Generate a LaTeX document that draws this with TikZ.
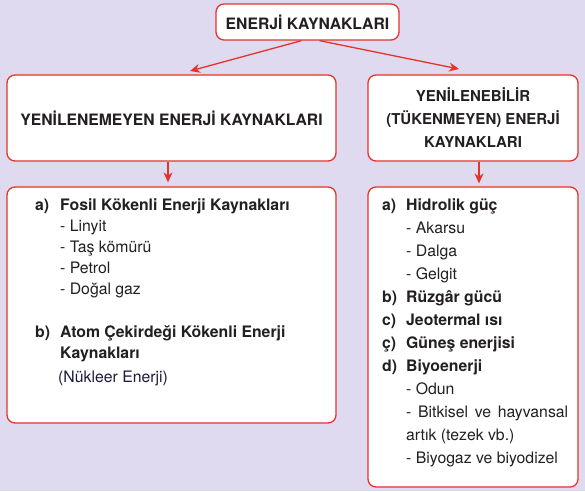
\documentclass[tikz,border=0pt]{standalone}
\usepackage{fontspec}
\setmainfont{TeX Gyre Heros}
\usepackage{xcolor}
\usetikzlibrary{arrows.meta, positioning}

\definecolor{zemin}{RGB}{223,218,240}
\definecolor{kirmizi}{RGB}{228,52,42}
\definecolor{yazi}{RGB}{35,31,32}
\definecolor{lacivert}{RGB}{28,26,60}

\tikzset{
  kutu/.style={draw=kirmizi, line width=1.3pt, fill=white, rounded corners=8pt, inner sep=0pt, text=yazi},
  ok/.style={draw=kirmizi, line width=1.3pt, -{Stealth[length=10pt,width=9pt]}},
  baslikyazi/.style={font=\fontsize{15.7}{23}\selectfont\bfseries, align=center},
  listeyazi/.style={inner sep=0pt, text=yazi}
}

\newcommand{\madde}[2]{\makebox[#1][l]{\bfseries #2}}

\begin{document}
\begin{tikzpicture}[x=1pt, y=-1pt]
  % zemin
  \fill[zemin] (0,0) rectangle (585,491);
  \useasboundingbox (0,0) rectangle (585,491);

  % ana baslik
  \node[kutu, baslikyazi, minimum width=183pt, minimum height=36pt] (baslik) at (307.5,22) {ENERJİ KAYNAKLARI};

  % ikinci sira
  \node[kutu, baslikyazi, minimum width=329pt, minimum height=86pt] (tukenen) at (171.5,118) {YENİLENEMEYEN ENERJİ KAYNAKLARI};
  \node[kutu, baslikyazi, font=\fontsize{15}{23}\selectfont\bfseries, minimum width=210pt, minimum height=86pt] (yenilenen) at (473,118) {YENİLENEBİLİR\\(TÜKENMEYEN) ENERJİ\\KAYNAKLARI};

  % liste kutulari
  \node[kutu, minimum width=329pt, minimum height=236pt] (tukenenliste) at (171.5,305) {};
  \node[kutu, minimum width=210pt, minimum height=300pt] (yenilenenliste) at (473,337) {};

  % oklar
  \coordinate (ucsol) at (190,71);
  \coordinate (ucsag) at (459,69);
  \draw[ok] ([xshift=-6pt]baslik.south) -- (ucsol);
  \draw[ok] ([xshift=12pt]baslik.south) -- (ucsag);
  \draw[ok] ([xshift=-3.5pt]tukenen.south) -- ([xshift=-3.5pt,yshift=4pt]tukenenliste.north);
  \draw[ok] ([xshift=6pt]yenilenen.south) -- ([xshift=6pt,yshift=3pt]yenilenenliste.north);

  % tukenen kaynaklar
  \node[listeyazi, anchor=base west] (tukenenmetin) at (35,210) {\fontsize{15.8}{21.2}\selectfont
    \begin{tabular}[t]{@{}l@{}l@{}}
      \madde{25pt}{a)} & \textbf{Fosil Kökenli Enerji Kaynakları}\\
      & - Linyit\\
      & - Taş kömürü\\
      & - Petrol\\
      & - Doğal gaz\\
      & \\
      \madde{25pt}{b)} & \textbf{Atom Çekirdeği Kökenli Enerji}\\
      & \textbf{Kaynakları}\\[3pt]
      & \hspace{-2pt}\textcolor{lacivert}{(Nükleer Enerji)}
    \end{tabular}};

  % yenilenebilir kaynaklar
  \node[listeyazi, anchor=base west] (yenilenenmetin) at (382,210) {\fontsize{15.8}{23}\selectfont
    \begin{tabular}[t]{@{}l@{}l@{}}
      \madde{24pt}{a)} & \textbf{Hidrolik güç}\\
      & - Akarsu\\
      & - Dalga\\
      & - Gelgit\\
      \madde{24pt}{b)} & \textbf{Rüzgâr gücü}\\
      \madde{24pt}{c)} & \textbf{Jeotermal ısı}\\
      \madde{24pt}{ç)} & \textbf{Güneş enerjisi}\\
      \madde{24pt}{d)} & \textbf{Biyoenerji}\\
      & - Odun\\
      & \makebox[162pt][s]{- Bitkisel ve hayvansal}\\
      & artık (tezek vb.)\\
      & - Biyogaz ve biyodizel
    \end{tabular}};
\end{tikzpicture}
\end{document}
